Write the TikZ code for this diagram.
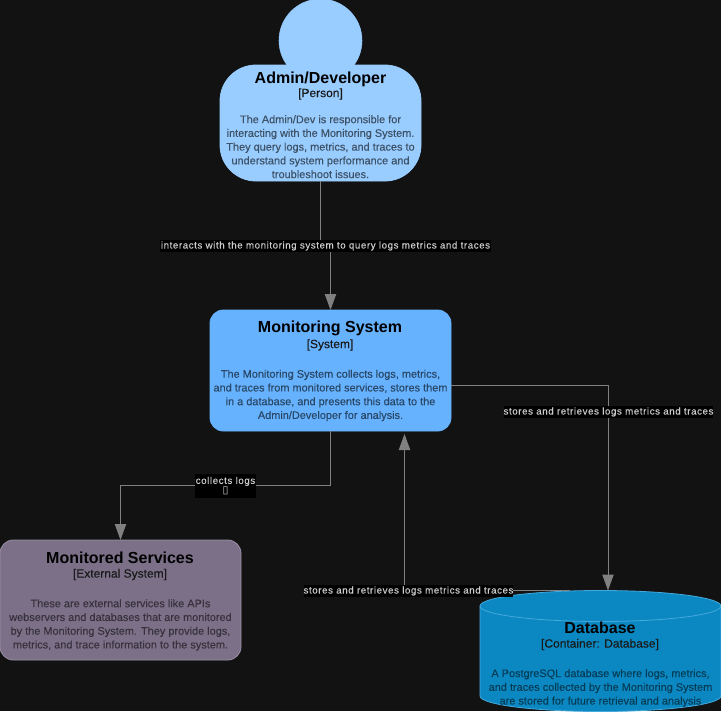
\documentclass[tikz,border=0pt]{standalone}
\usepackage{fontspec}
\setmainfont{Liberation Sans}
\newfontfamily\edgefont[LetterSpace=6,FakeBold=0.1]{Liberation Sans}
\newfontfamily\semifont[FakeBold=0.2]{Liberation Sans}
\newfontfamily\boxfont{DejaVu Sans}
\usetikzlibrary{arrows.meta}
\definecolor{bgc}{HTML}{121212}
\definecolor{personc}{HTML}{99CCFF}
\definecolor{sysc}{HTML}{66B2FF}
\definecolor{extc}{HTML}{7B7088}
\definecolor{extb}{HTML}{9A90A6}
\definecolor{dbc}{HTML}{0B88C2}
\definecolor{dbb}{HTML}{45A9DC}
\definecolor{linec}{HTML}{808080}
\definecolor{labc}{HTML}{CCCCCC}
\tikzset{
  x=0.75pt,y=-0.75pt,
  box/.style={inner sep=0,outer sep=0,draw=#1,line width=0.6pt},
  ttl/.style={font=\fontsize{12}{14}\bfseries,text=black,inner sep=0},
  sub/.style={font=\semifont\fontsize{9}{11}\selectfont,text=#1,inner sep=0},
  dsc/.style={font=\semifont\fontsize{8.2}{10.3}\selectfont,align=center,text=#1,inner sep=0},
  rel/.style={draw=linec,line width=0.75pt,-{Triangle[length=12pt,width=8.5pt,color=linec]}},
  lab/.style={fill=black,text=labc,font=\edgefont\fontsize{7.3}{9}\selectfont,inner sep=0,align=center,minimum height=9pt}
}
\begin{document}
\begin{tikzpicture}
\useasboundingbox (0,0) rectangle (721,711);
\fill[bgc] (0,0) rectangle (721,711);
\clip (0,0) rectangle (721,711);
% person
\node[circle,fill=personc,draw=personc,minimum size=62.25pt,inner sep=0,outer sep=0] (head) at (320.5,40.5) {};
\node[box=personc,fill=personc,rounded corners=27pt,minimum width=150.75pt,minimum height=87pt] (admin) at (320.5,123) {};
\node[ttl] (adminT) at (320.5,79) {Admin/Developer};
\node[sub=black!90] (adminS) at (320.5,94) {[Person]};
\node[dsc=black!60!personc] (adminD) at (320.5,146.7) {The Admin/Dev is responsible for\\interacting with the Monitoring System.\\They query logs, metrics, and traces to\\understand system performance and\\troubleshoot issues.};
% system
\node[box=sysc,fill=sysc,rounded corners=10pt,minimum width=180.75pt,minimum height=90.75pt] (mon) at (330.5,370.5) {};
\node[ttl] (monT) at (330,328.5) {Monitoring System};
\node[sub=black!90] (monS) at (330,345) {[System]};
\node[dsc=black!60!sysc] (monD) at (330.5,395.5) {The Monitoring System collects logs, metrics,\\and traces from monitored services, stores them\\in a database, and presents this data to the\\Admin/Developer for analysis.};
% external
\node[box=extb,fill=extc,rounded corners=10pt,minimum width=180.75pt,minimum height=90pt] (svc) at (120.5,600) {};
\node[ttl] (svcT) at (120,557.5) {Monitored Services};
\node[sub=black!90] (svcS) at (120,574.5) {[External System]};
\node[dsc=black!55!extc] (svcD) at (120.5,625) {These are external services like APIs\\webservers and databases that are monitored\\by the Monitoring System. They provide logs,\\metrics, and trace information to the system.};
% database
\path[fill=dbc] (480,606) arc[x radius=120.5,y radius=15.5,start angle=180,end angle=360] -- (721,696) arc[x radius=120.5,y radius=15.5,start angle=0,end angle=180] -- cycle;
\draw[dbb,line width=0.6pt] (480,606) arc[x radius=120.5,y radius=15.5,start angle=180,end angle=0];
\draw[dbb,line width=0.6pt] (480,606) -- (480,696) arc[x radius=120.5,y radius=15.5,start angle=180,end angle=0] -- (721,606) arc[x radius=120.5,y radius=15.5,start angle=360,end angle=180];
\coordinate (dbIn) at (608,590.5);
\coordinate (dbOut) at (570,590.5);
\node[ttl] (dbT) at (600,627.5) {Database};
\node[sub=black!90] (dbS) at (600,644.5) {[Container: Database]};
\node[dsc=black!55!dbc] (dbD) at (600.5,688) {A PostgreSQL database where logs, metrics,\\and traces collected by the Monitoring System\\are stored for future retrieval and analysis};
% connector waypoints
\coordinate (a1) at (320.5,245.5);
\coordinate (a2) at (330.5,245.5);
\coordinate (b1) at (330.5,485.5);
\coordinate (b2) at (120.5,485.5);
\coordinate (c1) at (451,385.5);
\coordinate (c2) at (608,385.5);
\coordinate (d1) at (404.5,590.5);
\coordinate (d2) at (404.5,434);
% connectors
\draw[rel] (admin.south) -- (a1) -- (a2) -- (mon.north);
\draw[rel] (mon.south) -- (b1) -- (b2) -- (svc.north);
\draw[rel] (c1) -- (c2) -- (dbIn);
\draw[rel] (dbOut) -- (d1) -- (d2);
% labels
\node[lab,minimum width=248.25pt] (l1) at (325.5,246) {interacts with the monitoring system to query logs metrics and traces};
\node[lab,minimum width=45.75pt,minimum height=18pt] (l2) at (225.5,486) {collects logs\\[-1.5pt]{\boxfont\fontsize{8}{8}\selectfont\char"25AF}};
\node[lab,minimum width=156.75pt] (l3) at (608.5,412) {stores and retrieves logs metrics and traces};
\node[lab,minimum width=156.75pt] (l4) at (408.5,591) {stores and retrieves logs metrics and traces};
\end{tikzpicture}
\end{document}
